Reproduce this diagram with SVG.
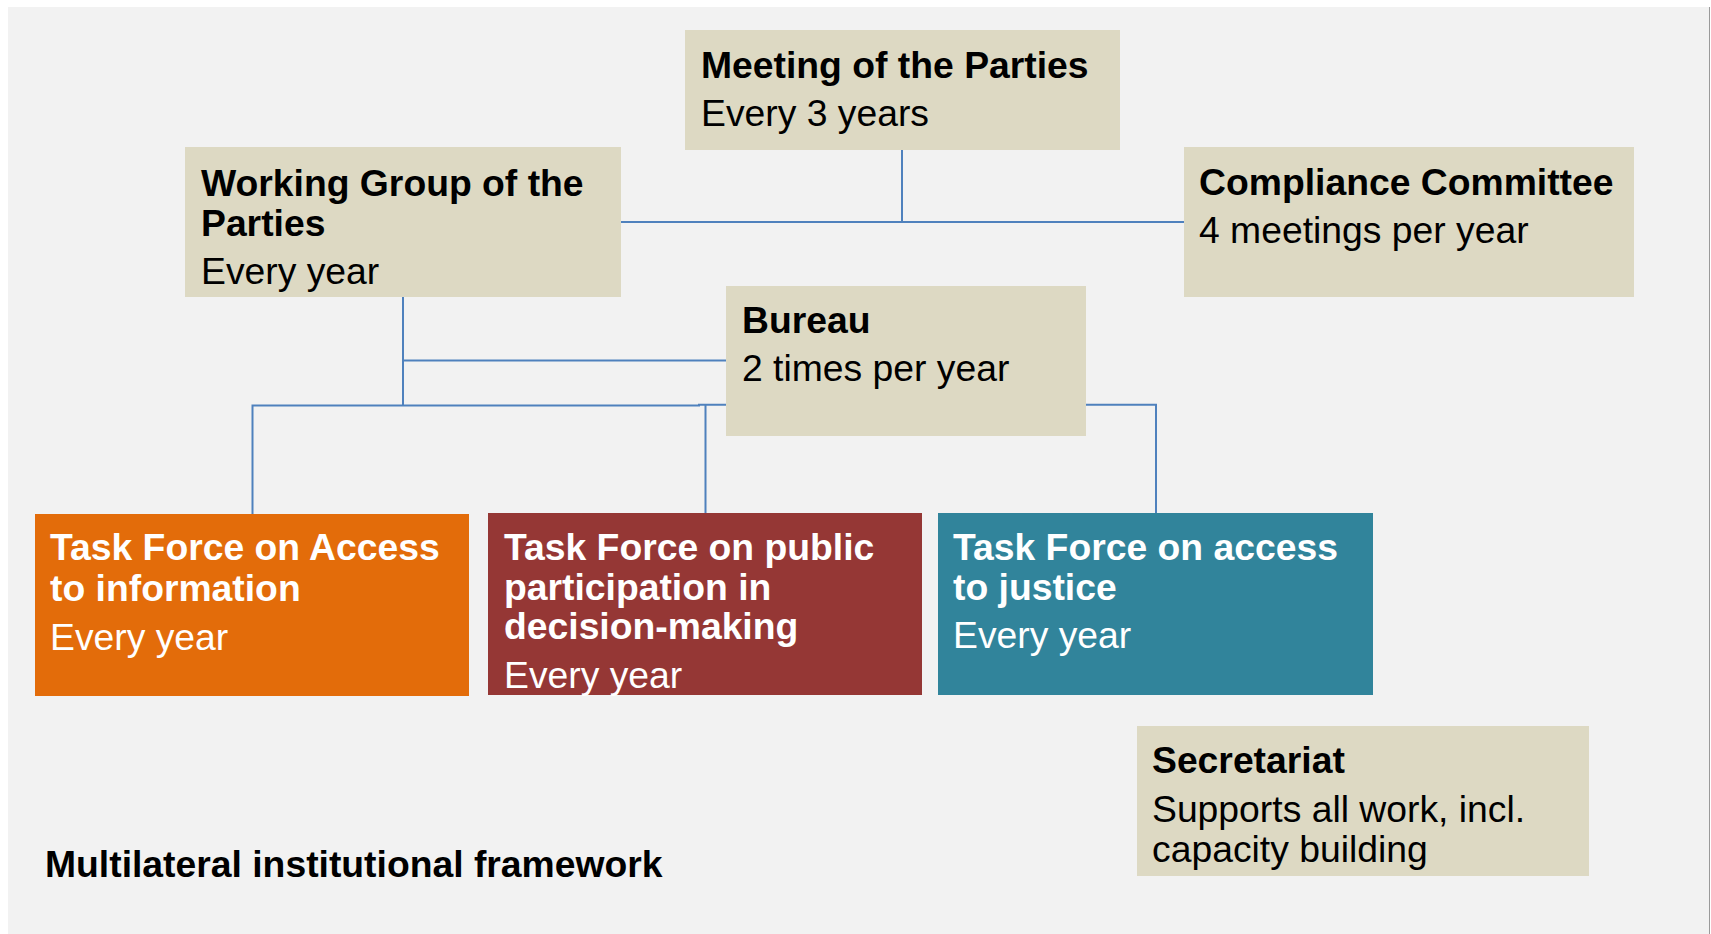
<svg xmlns="http://www.w3.org/2000/svg" width="1711" height="934" viewBox="0 0 1711 934">
  <style>
    .panel { fill: #F2F2F2; }
    .beige { fill: #DDD9C3; }
    .orange { fill: #E36C0A; }
    .red { fill: #953735; }
    .teal { fill: #31849B; }
    .conn { fill: none; stroke: #4F81BD; stroke-width: 2; }
    text { font-family: "Liberation Sans", Arial, sans-serif; font-size: 37.3px; }
    .t { font-weight: bold; fill: #000; }
    .s { fill: #000; }
    .tw { font-weight: bold; fill: #FFF; }
    .sw { fill: #FFF; }
  </style>

  <!-- slide background -->
  <rect x="0" y="0" width="1711" height="934" fill="#FFFFFF"/>
  <rect class="panel" x="8" y="7" width="1701" height="927"/>
  <line x1="1709.5" y1="7" x2="1709.5" y2="934" stroke="#9A9A9A" stroke-width="1"/>

  <!-- connectors -->
  <g id="connectors">
    <path class="conn" d="M902 150 V222"/>
    <path class="conn" d="M621 222 H1184"/>
    <path class="conn" d="M403 297 V405"/>
    <path class="conn" d="M403 360.5 H726"/>
    <path class="conn" d="M252.5 514 V405.5 H699 V404.7 H726"/>
    <path class="conn" d="M705.5 405 V513"/>
    <path class="conn" d="M1086 404.7 H1156 V513"/>
  </g>

  <g id="meeting-of-the-parties">
    <rect class="beige" x="685" y="30" width="435" height="120"/>
    <text class="t" x="701" y="78">Meeting of the Parties</text>
    <text class="s" x="701" y="126">Every 3 years</text>
  </g>

  <g id="working-group">
    <rect class="beige" x="185" y="147" width="436" height="150"/>
    <text class="t" x="201" y="196">Working Group of the</text>
    <text class="t" x="201" y="236">Parties</text>
    <text class="s" x="201" y="284">Every year</text>
  </g>

  <g id="compliance-committee">
    <rect class="beige" x="1184" y="147" width="450" height="150"/>
    <text class="t" x="1199" y="195">Compliance Committee</text>
    <text class="s" x="1199" y="243">4 meetings per year</text>
  </g>

  <g id="bureau">
    <rect class="beige" x="726" y="286" width="360" height="150"/>
    <text class="t" x="742" y="333">Bureau</text>
    <text class="s" x="742" y="381">2 times per year</text>
  </g>

  <g id="tf-access-information">
    <rect class="orange" x="35" y="514" width="434" height="182"/>
    <text class="tw" x="50" y="560">Task Force on Access</text>
    <text class="tw" x="50" y="601">to information</text>
    <text class="sw" x="50" y="650">Every year</text>
  </g>

  <g id="tf-public-participation">
    <rect class="red" x="488" y="513" width="434" height="182"/>
    <text class="tw" x="504" y="560">Task Force on public</text>
    <text class="tw" x="504" y="600">participation in</text>
    <text class="tw" x="504" y="639">decision-making</text>
    <text class="sw" x="504" y="688">Every year</text>
  </g>

  <g id="tf-access-justice">
    <rect class="teal" x="938" y="513" width="435" height="182"/>
    <text class="tw" x="953" y="560">Task Force on access</text>
    <text class="tw" x="953" y="600">to justice</text>
    <text class="sw" x="953" y="648">Every year</text>
  </g>

  <g id="secretariat">
    <rect class="beige" x="1137" y="726" width="452" height="150"/>
    <text class="t" x="1152" y="773">Secretariat</text>
    <text class="s" x="1152" y="822">Supports all work, incl.</text>
    <text class="s" x="1152" y="862">capacity building</text>
  </g>

  <g id="caption">
    <text class="t" x="45" y="877">Multilateral institutional framework</text>
  </g>
</svg>
